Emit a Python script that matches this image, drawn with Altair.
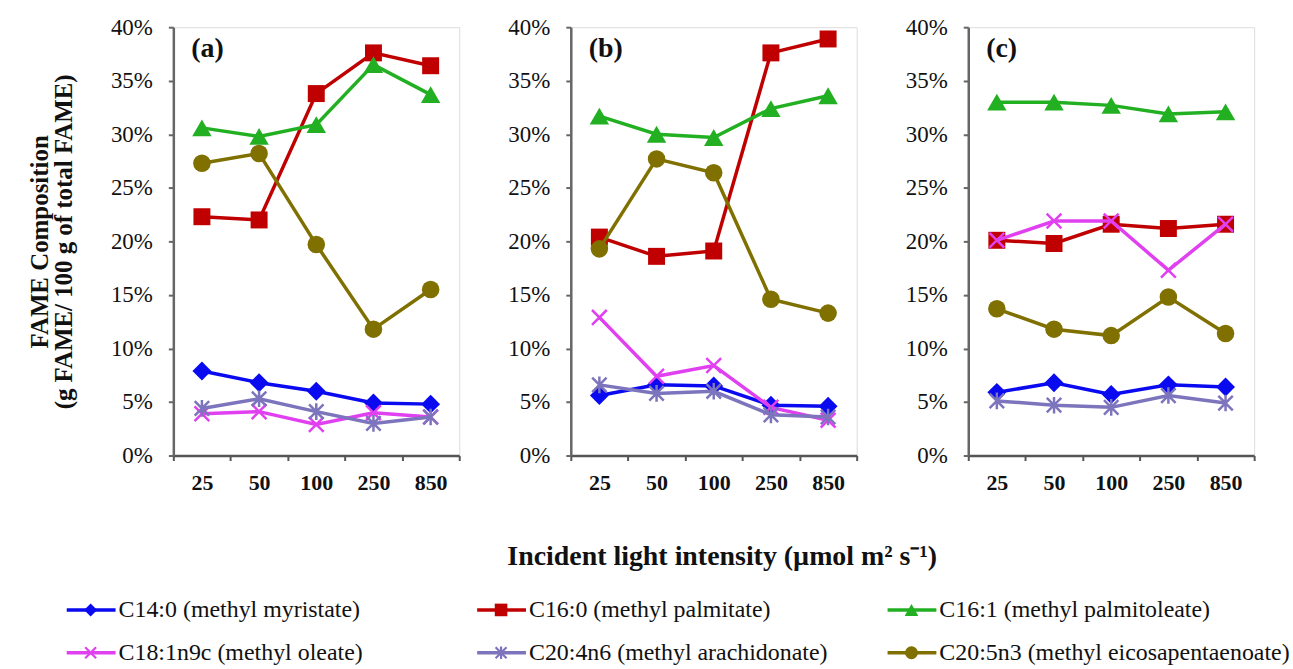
import altair as alt
import pandas as pd

# ---------------- data ----------------
intensity = ["25", "50", "100", "250", "850"]
series_names = [
    "C14:0 (methyl myristate)",
    "C16:0 (methyl palmitate)",
    "C16:1 (methyl palmitoleate)",
    "C18:1n9c (methyl oleate)",
    "C20:4n6 (methyl arachidonate)",
    "C20:5n3 (methyl eicosapentaenoate)",
]
panel_labels = ["(a)", "(b)", "(c)"]

# values in % of total FAME, one list per series
panel_a = [
    [7.9, 6.8, 6.0, 4.9, 4.8],
    [22.3, 22.0, 33.8, 37.6, 36.4],
    [30.6, 29.8, 30.9, 36.5, 33.7],
    [3.9, 4.1, 2.9, 4.0, 3.6],
    [4.4, 5.3, 4.1, 3.0, 3.6],
    [27.3, 28.2, 19.7, 11.8, 15.5],
]
panel_b = [
    [5.6, 6.6, 6.5, 4.7, 4.6],
    [20.4, 18.6, 19.1, 37.6, 38.9],
    [31.7, 30.0, 29.7, 32.4, 33.6],
    [12.9, 7.4, 8.4, 4.5, 3.3],
    [6.6, 5.8, 6.0, 3.8, 3.6],
    [19.3, 27.7, 26.4, 14.6, 13.3],
]
panel_c = [
    [5.9, 6.8, 5.7, 6.6, 6.4],
    [20.1, 19.8, 21.6, 21.2, 21.6],
    [33.0, 33.0, 32.7, 31.9, 32.1],
    [20.1, 21.9, 21.9, 17.3, 21.6],
    [5.1, 4.7, 4.5, 5.6, 4.9],
    [13.7, 11.8, 11.2, 14.8, 11.4],
]
y_ticks = [0, 5, 10, 15, 20, 25, 30, 35, 40]
y_title = ["FAME Composition", "(g FAME/ 100 g of  total FAME)"]
x_title = "Incident light intensity (\u00b5mol m\u00b2 s\u207b\u00b9)"

# ---------------- styles ----------------
colors = ["#0A0AF0", "#C00000", "#22B022", "#E040F0", "#7C74BC", "#7F7000"]
X_PATH = "M-1,-1L1,1M-1,1L1,-1"
STAR_PATH = "M-1,-1L1,1M-1,1L1,-1M0,-1.15L0,1.15"
shapes = ["diamond", "square", "triangle-up", X_PATH, STAR_PATH, "circle"]
sizes = [360, 290, 380, 220, 210, 310]
filled = [True, True, True, False, False, True]
leg_sizes = [170, 160, 190, 120, 120, 170]

SERIF = "Liberation Serif"
PANEL_W = 287
PANEL_H = 430
AXIS_GRAY = "#666666"

rows = []
for pname, pdata in zip(panel_labels, [panel_a, panel_b, panel_c]):
    for sname, vals in zip(series_names, pdata):
        for xi, v in zip(intensity, vals):
            rows.append({"panel": pname, "series": sname, "intensity": xi, "value": v})
df = pd.DataFrame(rows)

leg_df = pd.DataFrame(
    {
        "series": series_names,
        "col": [i % 3 for i in range(len(series_names))],
        "row": [i // 3 for i in range(len(series_names))],
    }
)


def y_axis(first):
    common = dict(
        values=y_ticks,
        labelExpr="datum.value + '%'",
        grid=False,
        domainColor=AXIS_GRAY,
        domainWidth=2.5,
        tickColor=AXIS_GRAY,
        tickWidth=2,
        tickSize=5,
        labelFont=SERIF,
        labelFontSize=23,
        labelColor="#111111",
        labelPadding=16,
    )
    if first:
        return alt.Axis(
            title=y_title,
            titleFont=SERIF,
            titleFontSize=25,
            titleFontWeight="bold",
            titleColor="#111111",
            titleLineHeight=24,
            titleAngle=270,
            titleBaseline="alphabetic",
            titleAlign="center",
            titleX=-126,
            titleY=PANEL_H / 2,
            **common,
        )
    return alt.Axis(title=None, **common)


def make_panel(pname, first):
    base = alt.Chart(df).transform_filter(alt.datum.panel == pname)
    xaxis = alt.Axis(
        title=None,
        labelAngle=0,
        tickBand="extent",
        domainColor="#555555",
        domainWidth=2.5,
        tickColor="#555555",
        tickWidth=2,
        tickSize=5,
        labelFont=SERIF,
        labelFontSize=22,
        labelFontWeight="bold",
        labelColor="#111111",
        labelPadding=12,
        grid=False,
    )
    xenc = alt.X(
        "intensity:N",
        sort=intensity,
        scale=alt.Scale(type="band", domain=intensity, paddingInner=0, paddingOuter=0),
        axis=xaxis,
        bandPosition=0.5,
    )
    yenc = alt.Y(
        "value:Q",
        scale=alt.Scale(domain=[0, 40], nice=False, zero=True),
        axis=y_axis(first),
    )
    layers = []
    for i, sname in enumerate(series_names):
        sub = base.transform_filter(alt.datum.series == sname)
        layers.append(
            sub.mark_line(color=colors[i], strokeWidth=3.5).encode(x=xenc, y=yenc)
        )
        if filled[i]:
            pt = sub.mark_point(
                shape=shapes[i], size=sizes[i], filled=True, color=colors[i], opacity=1
            )
        else:
            pt = sub.mark_point(
                shape=shapes[i], size=sizes[i], filled=False, color=colors[i],
                strokeWidth=2.5, opacity=1
            )
        layers.append(pt.encode(x=xenc, y=yenc))
    lab = alt.Chart(pd.DataFrame({"t": [pname]})).mark_text(
        font=SERIF, fontSize=28, fontWeight="bold", color="#111111",
        align="left", baseline="middle"
    ).encode(x=alt.value(18), y=alt.value(22), text="t:N")
    layers.append(lab)
    data_layer = alt.layer(*layers)
    if not first:
        return data_layer.properties(width=PANEL_W, height=PANEL_H)

    # shared x-axis title and legend, hung below panel (a)
    lx = alt.X("col:Q", scale=alt.Scale(domain=[0, 2], range=[-107, 717]), axis=None)
    ly = alt.Y("row:Q", scale=alt.Scale(domain=[0, 1], range=[585, 628]), axis=None)
    lx2 = alt.X2("col:Q")
    leg_layers = []
    for i, sname in enumerate(series_names):
        sub = alt.Chart(leg_df).transform_filter(alt.datum.series == sname)
        leg_layers.append(
            sub.mark_rule(color=colors[i], strokeWidth=3.5, x2Offset=49).encode(
                x=lx, x2=lx2, y=ly
            )
        )
        if filled[i]:
            pt = sub.mark_point(
                shape=shapes[i], size=leg_sizes[i], filled=True, color=colors[i],
                opacity=1, xOffset=24
            )
        else:
            pt = sub.mark_point(
                shape=shapes[i], size=leg_sizes[i], filled=False, color=colors[i],
                strokeWidth=2.2, opacity=1, xOffset=24
            )
        leg_layers.append(pt.encode(x=lx, y=ly))
    leg_layers.append(
        alt.Chart(leg_df)
        .mark_text(align="left", baseline="middle", dx=52, font=SERIF, fontSize=24,
                   color="#111111")
        .encode(x=lx, y=ly, text="series:N")
    )
    leg_layers.append(
        alt.Chart(pd.DataFrame({"t": [x_title]}))
        .mark_text(align="center", baseline="middle", font=SERIF, fontSize=28,
                   fontWeight="bold", color="#111111")
        .encode(x=alt.value(551), y=alt.value(532), text="t:N")
    )
    legend_layer = alt.layer(*leg_layers)
    return (
        alt.layer(data_layer, legend_layer)
        .resolve_scale(x="independent", y="independent")
        .properties(width=PANEL_W, height=PANEL_H)
    )


chart = (
    alt.hconcat(
        make_panel("(a)", True),
        make_panel("(b)", False),
        make_panel("(c)", False),
        spacing=112,
        bounds="flush",
    )
    .properties(padding={"left": 27, "top": 14, "right": 2, "bottom": 2})
    .configure_view(strokeWidth=0)
    .configure(background="white")
)

chart.save("out.html", embed_options={"renderer": "svg", "actions": False})
